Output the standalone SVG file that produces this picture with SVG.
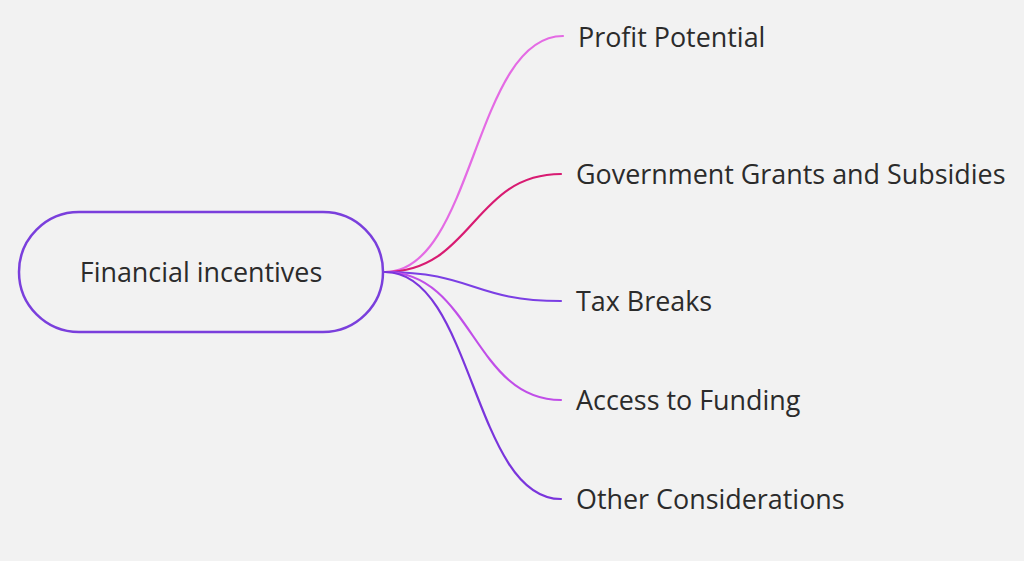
<svg xmlns="http://www.w3.org/2000/svg" width="1024" height="561" viewBox="0 0 1024 561">
<style>
.bg{fill:#f2f2f2}
.edge{fill:none;stroke-width:2.2;stroke-linecap:round}
.node{fill:#f2f2f2;stroke:#7a3fdc;stroke-width:2.5}
.t{font-family:"Open Sans","Noto Sans",sans-serif;font-size:26.9px;fill:#2b2b2b}
</style>
<rect class="bg" x="0" y="0" width="1024" height="561"/>
<g id="connectors">
<path class="edge" stroke="#e46be4" d="M385,272 C474,272 474,36 563,36"/>
<path class="edge" stroke="#d81b72" d="M385,272 C473,272 473,174 561,174"/>
<path class="edge" stroke="#7b3fe4" d="M385,272 C473,272 473,301 561,301"/>
<path class="edge" stroke="#c04ee8" d="M385,272 C473,272 473,400 561,400"/>
<path class="edge" stroke="#7a35dc" d="M385,272 C473,272 473,499 561,499"/>
</g>
<g id="root">
<rect class="node" x="19" y="212" width="364" height="120" rx="60" ry="60"/>
<text class="t" x="201" y="282" text-anchor="middle">Financial incentives</text>
</g>
<g id="n1"><text class="t" x="578" y="47">Profit Potential</text></g>
<g id="n2"><text class="t" x="576" y="184">Government Grants and Subsidies</text></g>
<g id="n3"><text class="t" x="576" y="311">Tax Breaks</text></g>
<g id="n4"><text class="t" x="576" y="410">Access to Funding</text></g>
<g id="n5"><text class="t" x="576" y="509">Other Considerations</text></g>
</svg>
